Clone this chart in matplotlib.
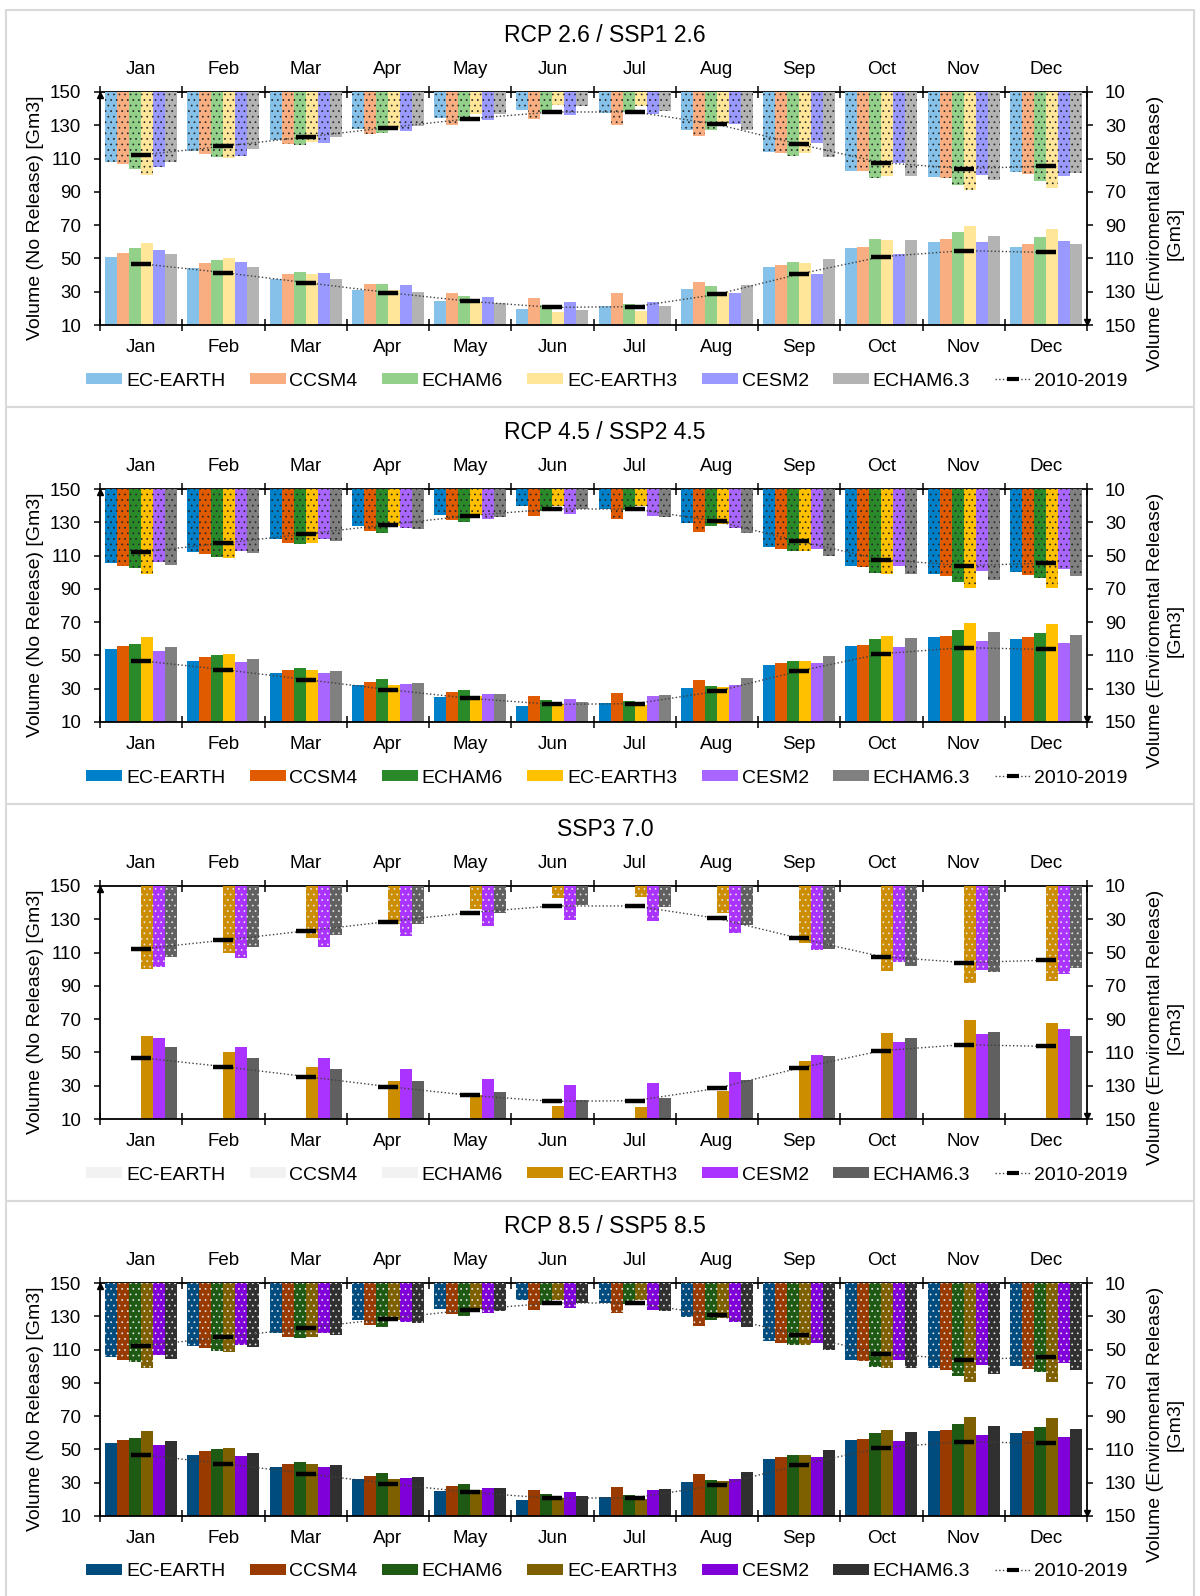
import numpy as np
import matplotlib
matplotlib.use('Agg')
import matplotlib.pyplot as plt
from matplotlib.patches import Patch, Rectangle
from matplotlib.lines import Line2D

plt.rcParams['font.family'] = ['Liberation Sans', 'DejaVu Sans']
plt.rcParams['hatch.linewidth'] = 0.5

# ---- data ----
months = ['Jan', 'Feb', 'Mar', 'Apr', 'May', 'Jun',
          'Jul', 'Aug', 'Sep', 'Oct', 'Nov', 'Dec']
models = ['EC-EARTH', 'CCSM4', 'ECHAM6', 'EC-EARTH3', 'CESM2', 'ECHAM6.3']
titles = ['RCP 2.6 / SSP1 2.6', 'RCP 4.5 / SSP2 4.5', 'SSP3 7.0', 'RCP 8.5 / SSP5 8.5']

# 2010-2019 reference
hist_volume = [46.8, 41.5, 35.5, 29.5, 24.2, 20.6, 21.0, 28.4, 40.6, 51.0, 54.7, 53.6]
hist_release = [47.8, 42.6, 37.0, 31.4, 26.0, 22.0, 22.0, 29.4, 41.4, 52.4, 56.0, 54.6]

# volume without release (left axis, bars from the bottom)
rcp26_volume = [
    [50.6, 44.4, 37.4, 31.0, 24.4, 19.6, 21.6, 31.4, 45.0, 56.4, 60.0, 57.0],
    [53.0, 47.0, 40.6, 34.4, 29.0, 26.0, 29.4, 36.0, 46.0, 57.0, 61.4, 58.6],
    [56.0, 49.0, 41.6, 34.4, 27.4, 22.0, 22.6, 33.4, 48.0, 61.6, 66.0, 63.0],
    [59.4, 50.0, 40.6, 31.0, 24.0, 18.0, 18.6, 30.0, 47.0, 61.0, 69.4, 67.4],
    [55.0, 48.0, 41.0, 33.8, 27.0, 24.0, 24.0, 29.4, 40.6, 52.6, 60.0, 60.4],
    [52.4, 44.6, 37.4, 30.0, 23.4, 19.0, 21.6, 34.0, 49.4, 61.0, 63.4, 58.8],
]
# environmental release (right axis, bars hanging from the top)
rcp26_release = [
    [52.0, 45.6, 38.6, 32.0, 25.6, 21.0, 22.4, 32.6, 46.0, 57.4, 61.0, 58.0],
    [53.4, 47.4, 41.0, 35.0, 29.6, 26.4, 29.6, 36.4, 46.6, 57.4, 61.6, 59.4],
    [56.0, 49.0, 42.0, 34.4, 27.4, 22.0, 22.0, 32.6, 48.4, 61.4, 66.0, 63.4],
    [59.6, 49.4, 40.0, 32.0, 23.0, 17.6, 18.6, 29.4, 46.6, 60.6, 68.6, 67.4],
    [55.0, 48.4, 40.6, 33.4, 27.0, 24.0, 23.4, 29.4, 40.6, 52.6, 60.0, 60.4],
    [52.0, 44.4, 37.0, 30.4, 23.0, 18.6, 21.6, 32.6, 49.0, 60.4, 63.0, 58.4],
]

rcp45_volume = [
    [53.6, 46.8, 39.4, 32.2, 25.0, 19.8, 21.4, 30.6, 44.4, 55.6, 60.8, 59.6],
    [55.6, 48.8, 41.4, 34.2, 28.2, 25.8, 27.6, 35.0, 45.6, 56.4, 61.6, 61.2],
    [56.8, 50.0, 42.6, 35.8, 29.0, 23.4, 22.4, 31.4, 46.8, 60.0, 65.0, 63.2],
    [60.8, 51.0, 41.4, 32.4, 25.4, 20.6, 20.0, 31.0, 46.8, 61.4, 69.6, 69.0],
    [52.4, 46.0, 39.4, 32.6, 27.0, 24.0, 25.4, 32.4, 45.4, 55.0, 58.6, 57.2],
    [55.2, 48.0, 40.6, 33.4, 26.6, 21.8, 26.2, 36.4, 49.4, 60.4, 64.2, 62.0],
]
rcp45_release = [
    [54.2, 47.6, 40.0, 32.2, 25.6, 20.2, 21.8, 30.6, 44.6, 56.0, 61.2, 60.0],
    [56.0, 49.2, 42.2, 35.0, 28.6, 26.2, 28.2, 35.6, 46.0, 57.0, 62.0, 61.6],
    [57.2, 50.6, 43.2, 36.2, 29.6, 23.2, 22.6, 32.0, 47.2, 60.6, 65.6, 63.6],
    [61.0, 51.2, 42.2, 32.2, 25.6, 20.2, 20.2, 31.0, 47.0, 61.2, 69.6, 69.2],
    [53.6, 47.0, 40.2, 33.6, 28.0, 25.2, 26.2, 33.6, 46.2, 56.0, 59.0, 58.0],
    [55.6, 48.6, 41.0, 34.0, 26.6, 22.0, 26.6, 36.2, 50.0, 61.0, 64.6, 62.0],
]

# SSP3 7.0: only EC-EARTH3, CESM2 and ECHAM6.3
ssp370_volume = [
    None, None, None,
    [59.6, 50.2, 41.4, 32.8, 24.4, 18.0, 17.4, 27.0, 44.6, 61.6, 69.4, 67.4],
    [58.8, 53.2, 46.6, 40.2, 34.2, 30.2, 31.4, 38.2, 48.4, 56.0, 60.8, 64.0],
    [53.2, 46.6, 39.8, 32.8, 26.4, 21.6, 22.8, 33.6, 48.0, 58.6, 62.0, 59.6],
]
ssp370_release = [
    None, None, None,
    [59.6, 50.0, 41.2, 32.6, 23.6, 17.4, 16.6, 26.4, 44.0, 61.0, 68.4, 67.0],
    [58.6, 53.0, 46.6, 40.2, 34.0, 30.2, 31.0, 38.0, 48.2, 55.4, 60.6, 63.0],
    [52.4, 46.4, 39.4, 32.6, 26.4, 21.6, 22.6, 33.6, 47.6, 58.0, 61.4, 59.4],
]

rcp85_volume = [
    [53.8, 46.8, 39.4, 32.2, 25.0, 19.8, 21.4, 30.6, 44.4, 55.6, 60.8, 59.6],
    [55.6, 48.8, 41.4, 34.2, 28.2, 25.8, 27.6, 35.0, 45.6, 56.4, 61.6, 61.2],
    [56.8, 50.0, 42.6, 35.8, 29.0, 23.4, 22.4, 31.4, 46.8, 60.0, 65.0, 63.2],
    [60.8, 51.0, 41.4, 32.4, 25.4, 20.6, 20.0, 31.0, 46.8, 61.4, 69.6, 69.0],
    [52.4, 46.0, 39.4, 32.6, 27.0, 24.4, 25.4, 32.4, 45.4, 55.0, 58.6, 57.2],
    [55.2, 48.0, 40.6, 33.4, 26.6, 21.8, 26.2, 36.4, 49.4, 60.4, 64.2, 62.0],
]
rcp85_release = [
    [54.4, 47.6, 40.0, 32.2, 25.6, 20.2, 21.8, 30.6, 44.6, 56.0, 61.2, 60.0],
    [56.4, 49.2, 42.2, 35.0, 28.6, 26.2, 28.2, 35.6, 46.0, 57.0, 62.0, 61.6],
    [57.4, 50.6, 43.2, 36.2, 29.6, 23.2, 22.6, 32.0, 47.2, 60.6, 65.6, 63.6],
    [61.0, 51.2, 42.2, 32.2, 25.6, 20.2, 20.2, 31.0, 47.0, 61.2, 69.6, 69.2],
    [53.4, 47.0, 40.2, 33.6, 28.0, 25.2, 26.2, 33.6, 46.2, 56.0, 59.0, 58.0],
    [55.8, 48.6, 41.0, 34.0, 26.6, 22.0, 26.6, 36.2, 50.0, 61.0, 64.6, 62.4],
]

volumes = [rcp26_volume, rcp45_volume, ssp370_volume, rcp85_volume]
releases = [rcp26_release, rcp45_release, ssp370_release, rcp85_release]

# ---- styles ----
panel_colors = [
    ['#85c1e9', '#f8ae80', '#93d08a', '#ffe699', '#9999ff', '#b3b3b3'],
    ['#0080c8', '#e05a00', '#2a8a2a', '#ffc000', '#a866ff', '#808080'],
    ['#f2f2f2', '#f2f2f2', '#f2f2f2', '#cc8e00', '#aa33ff', '#606060'],
    ['#004c7f', '#993a00', '#1e5a14', '#7f6000', '#7f00d9', '#303030'],
]
dot_colors = ['#262626', '#262626', '#e6e6e6', '#e6e6e6']

W, H = 1200, 1596
PANEL_H = 397


def fx(px):
    return px / W


def fy(py):
    return 1 - py / H


fig = plt.figure(figsize=(W / 100, H / 100), dpi=100)
x = np.arange(12)
bw = 0.146

for p in range(4):
    top = 10 + PANEL_H * p
    colors = panel_colors[p]

    # light frame round each panel
    fig.add_artist(Rectangle((fx(6), fy(top + PANEL_H)), fx(1188), PANEL_H / H,
                             fill=False, ec='#d9d9d9', lw=1.5,
                             transform=fig.transFigure))

    ax = fig.add_axes([fx(100), fy(top + 315), fx(987), 233 / H])
    ax2 = ax.twinx()

    for k in range(6):
        vol = volumes[p][k]
        rel = releases[p][k]
        if vol is None:
            continue
        xs = x + (k - 2.5) * bw
        ax.bar(xs, np.array(vol) - 10, bottom=10, width=bw,
               color=colors[k], linewidth=0, zorder=2)
        ax2.bar(xs, np.array(rel) - 10, bottom=10, width=bw,
                color=colors[k], edgecolor=dot_colors[p], linewidth=0,
                hatch='...', zorder=2)

    # 2010-2019
    ax.plot(x, hist_volume, ls=':', color='#404040', lw=1, zorder=4)
    ax.plot(x, hist_volume, ls='none', marker='_', ms=15, mew=3.2,
            color='black', zorder=5)
    ax2.plot(x, hist_release, ls=':', color='#404040', lw=1, zorder=4)
    ax2.plot(x, hist_release, ls='none', marker='_', ms=15, mew=3.2,
             color='black', zorder=5)

    ax.set_xlim(-0.5, 11.5)
    ax.set_ylim(10, 150)
    ax2.set_ylim(150, 10)
    ax.set_yticks(range(10, 151, 20))
    ax2.set_yticks(range(10, 151, 20))

    ax.set_xticks(np.arange(-0.5, 12, 1))
    ax.set_xticklabels([])
    ax.set_xticks(x, minor=True)
    ax.set_xticklabels(months, minor=True)
    ax.tick_params(axis='x', which='major', direction='inout', length=9,
                   width=1.1, top=True, bottom=True)
    ax.tick_params(axis='x', which='minor', length=0, top=True, bottom=True,
                   labeltop=True, labelbottom=True, labelsize=13.5, pad=10)
    ax.tick_params(axis='y', direction='out', length=4.5, width=1.1,
                   labelsize=13.5, pad=9)
    ax2.tick_params(axis='y', direction='out', length=4.5, width=1.1,
                    labelsize=13.5, pad=8.5)

    for s in ['top', 'bottom', 'left']:
        ax.spines[s].set_linewidth(1.3)
        ax2.spines[s].set_visible(False)
    ax.spines['right'].set_visible(False)
    ax2.spines['right'].set_linewidth(1.3)

    # small arrow heads on the value axes
    ax.plot([0], [1 - 0.015], marker='^', ms=5, color='black',
            transform=ax.transAxes, clip_on=False, zorder=6)
    ax.plot([1], [0.015], marker='v', ms=5, color='black',
            transform=ax.transAxes, clip_on=False, zorder=6)

    fig.text(fx(605), fy(top + 32), titles[p], ha='center', va='baseline',
             fontsize=16.5)
    fig.text(fx(36), fy(top + 208), 'Volume (No Release) [Gm3]', rotation=90,
             ha='center', va='center', fontsize=14)
    fig.text(fx(1165), fy(top + 223), 'Volume (Enviromental Release)\n[Gm3]',
             rotation=90, ha='center', va='center', fontsize=14,
             multialignment='center', linespacing=1.2)

    handles = [Patch(facecolor=c, edgecolor='none') for c in colors]
    handles.append(Line2D([], [], color='#404040', ls=':', lw=1, marker='_',
                          ms=9, mew=3, mec='black'))
    fig.legend(handles, models + ['2010-2019'], loc='center',
               bbox_to_anchor=(fx(607), fy(top + 371)), ncol=7, frameon=False,
               fontsize=14, handlelength=1.85, handleheight=0.5,
               handletextpad=0.2, columnspacing=1.25, borderaxespad=0)

fig.savefig('out.png', dpi=100)
